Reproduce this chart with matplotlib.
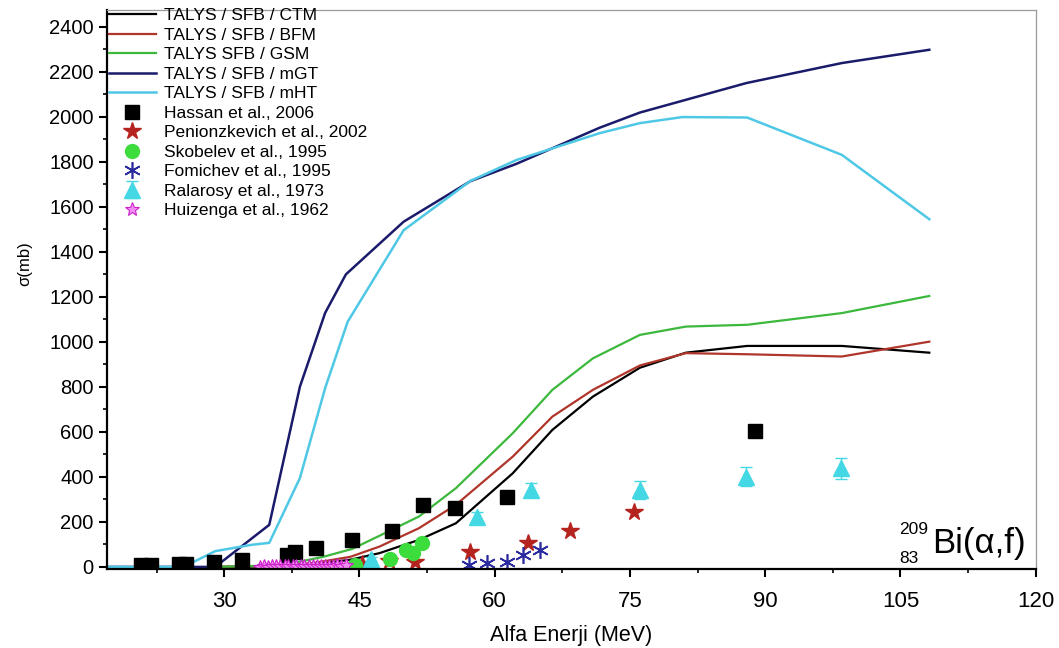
import numpy as np
import matplotlib.pyplot as plt
from matplotlib.ticker import MultipleLocator

plt.rcParams['font.family'] = ['Liberation Sans', 'DejaVu Sans']

# TALYS hesaplari
ctm_x = [29, 36, 40, 44, 47.2, 51.6, 55.7, 62, 66.4, 70.9, 76.1, 81.2, 88, 98.5, 108.2]
ctm_y = [0, 3, 12, 32, 61, 120, 194, 416, 609, 757, 885, 952, 982, 982, 952]
bfm_x = [29, 36, 40, 44, 47.2, 51.6, 55.7, 62, 66.4, 70.9, 76.1, 81.2, 88, 98.5, 108.2]
bfm_y = [0, 5, 18, 45, 90, 172, 276, 490, 668, 787, 895, 950, 945, 935, 1001]
gsm_x = [29, 34, 38, 41, 44.2, 47.2, 51.6, 55.7, 62, 66.4, 70.9, 76.1, 81.2, 88, 98.5, 108.2]
gsm_y = [0, 5, 20, 45, 80, 138, 224, 350, 594, 787, 927, 1031, 1068, 1076, 1128, 1204]
mgt_x = [17, 29, 35, 38.4, 41.2, 43.5, 49.9, 57.3, 62.4, 71.6, 76.1, 87.9, 98.5, 108.2]
mgt_y = [0, 0, 187, 801, 1129, 1300, 1534, 1714, 1791, 1951, 2019, 2150, 2239, 2298]
mht_x = [17, 25.5, 29, 33, 35, 38.4, 41.2, 43.7, 49.9, 57.3, 62.4, 71.6, 76.1, 80.8, 88, 98.5, 108.2]
mht_y = [0, 0, 70, 98, 107, 395, 795, 1090, 1496, 1715, 1808, 1927, 1972, 1999, 1997, 1831, 1545]

# deneysel veriler
hassan_x = [20.8, 21.9, 25.0, 25.8, 28.9, 32.0, 37.0, 37.8, 40.2, 44.2, 48.6, 52.1, 55.6, 61.4, 88.9]
hassan_y = [8, 8, 12, 15, 24, 31, 53, 68, 86, 120, 160, 276, 261, 310, 606]
penion_x = [45.3, 48.3, 51.2, 57.3, 63.7, 68.4, 75.4]
penion_y = [15, 28, 24, 68, 108, 161, 246]
skob_x = [44.5, 48.4, 50.2, 50.9, 51.9]
skob_y = [8, 35, 75, 62, 105]
fomi_x = [57.2, 59.2, 61.4, 63.1, 65.0]
fomi_y = [9, 16, 24, 53, 76]
rala_x = [46.3, 58.0, 64.0, 76.1, 87.9, 98.4]
rala_y = [35, 224, 342, 342, 401, 439]
rala_err = [10, 20, 30, 40, 42, 47]
huiz_x = [34.0, 34.4, 34.9, 35.3, 35.8, 36.2, 36.7, 37.1, 37.6, 38.0, 38.5, 38.9,
          39.4, 39.8, 40.3, 40.7, 41.2, 41.6, 42.1, 42.5, 43.0, 43.5]
huiz_y = [1, 2, 1, 2, 3, 2, 3, 2, 4, 3, 4, 3, 5, 4, 5, 4, 6, 5, 6, 7, 6, 8]

fig = plt.figure(figsize=(10.59, 6.48), dpi=100)
ax = fig.add_axes([0.101, 0.122, 0.877, 0.863])

h = []
h += ax.plot(ctm_x, ctm_y, color='black', lw=1.6, label='TALYS / SFB / CTM')
h += ax.plot(bfm_x, bfm_y, color='#b0352a', lw=1.6, label='TALYS / SFB / BFM')
h += ax.plot(gsm_x, gsm_y, color='#3cb83c', lw=1.6, label='TALYS SFB / GSM')
h += ax.plot(mgt_x, mgt_y, color='#1b1b6b', lw=1.8, label='TALYS / SFB / mGT')
h += ax.plot(mht_x, mht_y, color='#4fc8e6', lw=1.8, label='TALYS / SFB / mHT')

h += ax.plot(hassan_x, hassan_y, 's', color='black', ms=9.5, ls='none', label='Hassan et al., 2006')
h += ax.plot(penion_x, penion_y, '*', color='#b5231f', ms=13, ls='none', label='Penionzkevich et al., 2002')
h += ax.plot(skob_x, skob_y, 'o', color='#3ddc3d', ms=10, ls='none', label='Skobelev et al., 1995')
h += ax.plot(fomi_x, fomi_y, marker=(6, 2, 0), color='#2b2ba0', ms=12, mew=1.2, ls='none',
             label='Fomichev et al., 1995')
eb = ax.errorbar(rala_x, rala_y, yerr=rala_err, fmt='^', color='#44d8e4', ms=11, capsize=4,
                 elinewidth=1, ls='none', label='Ralarosy et al., 1973')
h.append(eb)
h += ax.plot(huiz_x, huiz_y, '*', mfc='#f08cf0', mec='#cc22cc', ms=10, mew=0.8, ls='none',
             label='Huizenga et al., 1962')

ax.set_xlim(17, 120)
ax.set_ylim(-9, 2476)
ax.xaxis.set_major_locator(MultipleLocator(15))
ax.xaxis.set_minor_locator(MultipleLocator(7.5))
ax.yaxis.set_major_locator(MultipleLocator(200))
ax.yaxis.set_minor_locator(MultipleLocator(100))
ax.tick_params(which='major', direction='out', length=6, width=1.5)
ax.tick_params(which='minor', direction='out', length=3, width=1.2)
ax.tick_params(axis='y', labelsize=14.5)
ax.tick_params(axis='x', labelsize=16, pad=10)

for s in ['left', 'bottom']:
    ax.spines[s].set_linewidth(1.6)
for s in ['top', 'right']:
    ax.spines[s].set_color('#999999')
    ax.spines[s].set_linewidth(0.9)

ax.set_xlabel('Alfa Enerji (MeV)', fontsize=15.5, labelpad=9)
ax.set_ylabel('σ(mb)', fontsize=12)
ax.yaxis.set_label_coords(-0.08, 0.546)

ax.legend(handles=h, loc='upper left', bbox_to_anchor=(0.0, 1.006), frameon=False, fontsize=12.5,
          labelspacing=0.25, handlelength=2.7, handletextpad=0.5, borderpad=0.1,
          borderaxespad=0.0)

ax.text(0.853, 0.07, '209', transform=ax.transAxes, fontsize=12.5, ha='left', va='center')
ax.text(0.853, 0.018, '83', transform=ax.transAxes, fontsize=12.5, ha='left', va='center')
ax.text(0.888, 0.029, 'Bi(α,f)', transform=ax.transAxes, fontsize=25, ha='left', va='baseline')

plt.savefig('out.png', dpi=100)
